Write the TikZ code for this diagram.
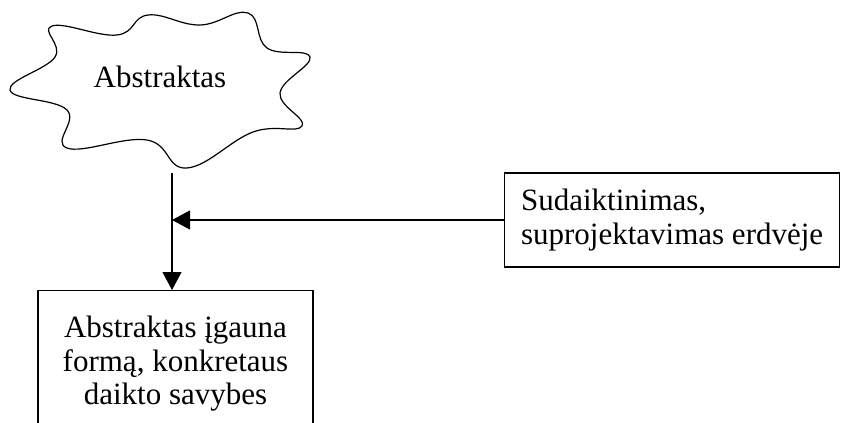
\documentclass[tikz,border=0pt]{standalone}
\usepackage{fontspec}
\setmainfont{Liberation Serif}
\usetikzlibrary{arrows.meta,positioning}
\begin{document}
\begin{tikzpicture}[x=1pt,y=-1pt,line width=1.2pt,
		txt/.style={font=\fontsize{31}{33.5}\selectfont},
		box/.style={draw,txt},
		arr/.style={-{Triangle[length=18pt,width=19pt]}}]
		\clip (0,0) rectangle (841,423);
		% cloud
		\draw plot[smooth cycle,tension=0.7] coordinates {(52,26) (117,35) (148,15) (200,25) (248,13) (267,48) (310,57) (280,93) (302,126) (253,132) (187,168) (147,140) (67,148) (67,110) (10,90) (55,57)};
		\node[txt] (abs) at (160,77) {Abstraktas};
		
		% boxes
		\node[box,anchor=north,minimum width=275pt,minimum height=146pt,align=center] (konk) at (175.5,290) {Abstraktas įgauna\\formą, konkretaus\\daikto savybes};
		\node[box,anchor=west,minimum width=335pt,minimum height=94pt,align=left] (sproj) at (504,220) {Sudaiktinimas,\\suprojektavimas erdvėje};
		
		% arrows
		\coordinate (split) at (172,173);
		\draw[arr] (split) -- (split |- konk.north);
		\draw[arr] (sproj.west) -- (sproj.west -| split);
	\end{tikzpicture}
\end{document}
